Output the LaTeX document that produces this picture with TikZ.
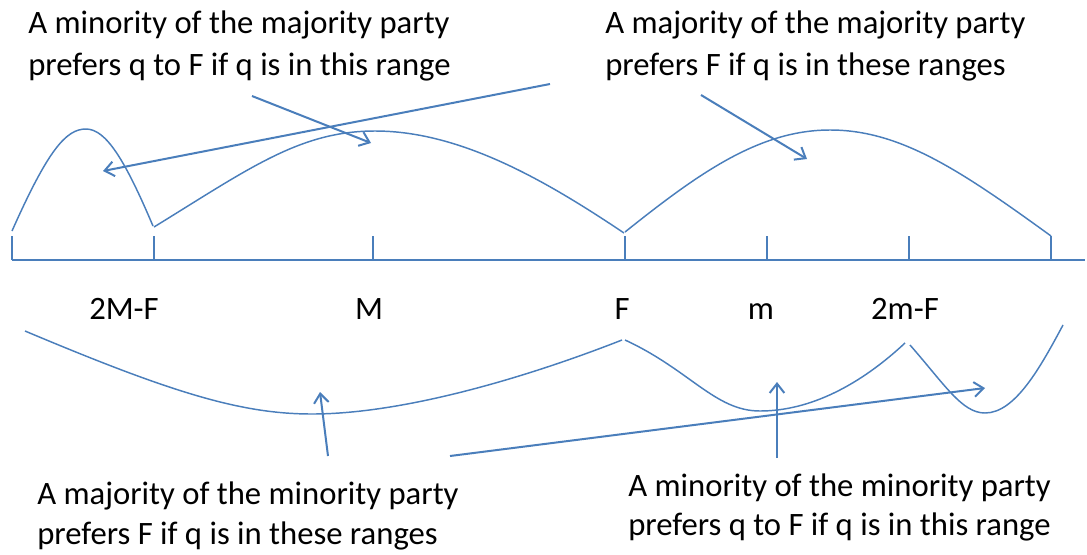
\documentclass[tikz,border=0pt]{standalone}
\usepackage{fontspec}
\setmainfont{Carlito}
\usetikzlibrary{arrows.meta}
\definecolor{lineblue}{RGB}{74,126,187}
\tikzset{
  curve/.style={draw=lineblue, line width=1.1pt},
  axisline/.style={draw=lineblue, line width=1.4pt},
  pointer/.style={draw=lineblue, line width=1.5pt, -{Straight Barb[length=7pt,width=11pt,line width=1.5pt]}},
  txt/.style={anchor=base west, inner sep=0pt, font=\fontsize{24.5}{31.5}\selectfont},
  lbl/.style={anchor=base, inner sep=0pt, font=\fontsize{24.5}{31.5}\selectfont}
}
\begin{document}
\begin{tikzpicture}[x=0.75pt,y=-0.75pt]
\useasboundingbox (0,0) rectangle (1087,554);
% texts
\node[txt] (tl1) at (28,33) {A minority of the majority party};
\node[txt] (tl2) at (28,75) {prefers q to F if q is in this range};
\node[txt] (tr1) at (605,33) {A majority of the majority party};
\node[txt] (tr2) at (605,75) {prefers F if q is in these ranges};
\node[txt] (bl1) at (37,504) {A majority of the minority party};
\node[txt] (bl2) at (37,544) {prefers F if q is in these ranges};
\node[txt] (br1) at (628,496) {A minority of the minority party};
\node[txt] (br2) at (628,535) {prefers q to F if q is in this range};
% axis labels
\node[lbl] (l2MF) at (124,319) {2M-F};
\node[lbl] (lM) at (369,319) {M};
\node[lbl] (lF) at (622,319) {F};
\node[lbl] (lm) at (761,319) {m};
\node[lbl] (l2mF) at (905,319) {2m-F};
% axis
\coordinate (a0) at (12,260);
\coordinate (a1) at (1085,260);
\draw[axisline] (a0) -- (a1);
\foreach \x in {12,154,373,625,767,909,1051}
  \draw[axisline] (\x,260) -- (\x,236);
% upper curves
\draw[curve] (12,231) .. controls (48,150) and (66,129) .. (86,129)
  .. controls (106,129) and (125,160) .. (153,226);
\draw[curve] (154,227) .. controls (250,168) and (300,131) .. (375,131)
  .. controls (460,131) and (545,180) .. (624,233);
\draw[curve] (625,232) .. controls (700,172) and (760,130) .. (830,130)
  .. controls (900,130) and (960,170) .. (1051,236);
% lower curves
\draw[curve] (25,331) .. controls (170,392) and (240,414) .. (312,414)
  .. controls (400,414) and (520,380) .. (622,340);
\draw[curve] (625,340) .. controls (690,370) and (715,411) .. (760,411)
  .. controls (810,411) and (860,385) .. (905,343);
\draw[curve] (910,345) .. controls (945,385) and (962,413) .. (985,413)
  .. controls (1015,413) and (1040,368) .. (1063,325);
% pointers
\coordinate (pA0) at (550,84);   \coordinate (pA1) at (103,171);
\coordinate (pB0) at (252,96);   \coordinate (pB1) at (371,143);
\coordinate (pC0) at (701,95);   \coordinate (pC1) at (807,159);
\coordinate (pD0) at (328,456);  \coordinate (pD1) at (320,392);
\coordinate (pE0) at (450,456);  \coordinate (pE1) at (985,388);
\coordinate (pF0) at (777,458);  \coordinate (pF1) at (777,382);
\draw[pointer] (pA0) -- (pA1);
\draw[pointer] (pB0) -- (pB1);
\draw[pointer] (pC0) -- (pC1);
\draw[pointer] (pD0) -- (pD1);
\draw[pointer] (pE0) -- (pE1);
\draw[pointer] (pF0) -- (pF1);
\end{tikzpicture}
\end{document}
